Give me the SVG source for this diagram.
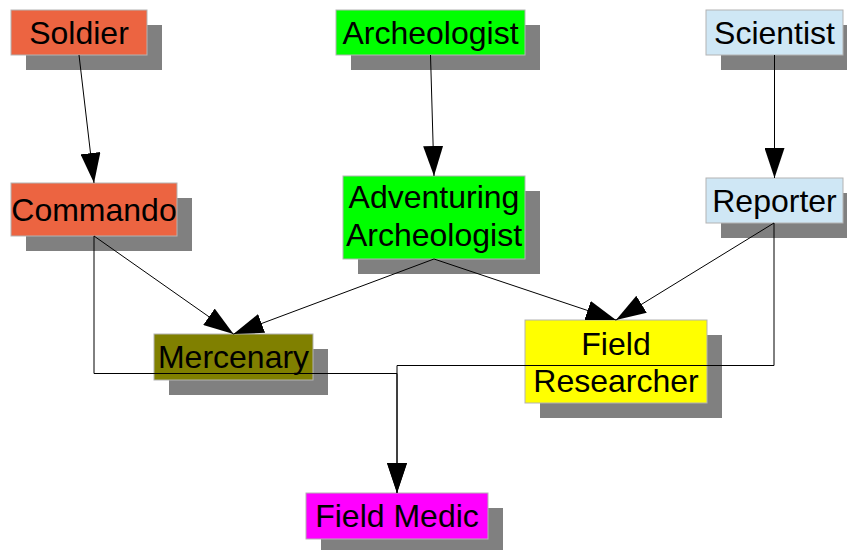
<svg xmlns="http://www.w3.org/2000/svg" width="847" height="550" viewBox="0 0 847 550">
<style>
.sh{fill:#808080}
.bx{stroke:#b3b3b3;stroke-width:1}
.t{font-family:"Liberation Sans",Arial,sans-serif;font-size:32px;fill:#000;text-anchor:middle}
.c{fill:none;stroke:#000;stroke-width:1;marker-end:url(#ah)}
</style>
<defs>
<marker id="ah" markerUnits="userSpaceOnUse" markerWidth="30" markerHeight="20" refX="30" refY="10" orient="auto" viewBox="0 0 30 20">
<path d="M0,0 L30,10 L0,20 z" fill="#000"/>
</marker>
</defs>
<rect width="847" height="550" fill="#fff"/>
<g id="soldier">
<rect class="sh" x="26" y="25" width="136" height="45"/>
<rect class="bx" x="11" y="10" width="136" height="45" fill="#ec6441"/>
<text class="t" x="79" y="44">Soldier</text>
</g>
<g id="archeologist">
<rect class="sh" x="351" y="25" width="189" height="45"/>
<rect class="bx" x="336" y="10" width="189" height="45" fill="#00ff00"/>
<text class="t" x="430.5" y="44">Archeologist</text>
</g>
<g id="scientist">
<rect class="sh" x="721" y="25" width="137" height="45"/>
<rect class="bx" x="706" y="10" width="137" height="45" fill="#cfe7f5"/>
<text class="t" x="774.5" y="44">Scientist</text>
</g>
<g id="commando">
<rect class="sh" x="26" y="198" width="166" height="53"/>
<rect class="bx" x="11" y="183" width="166" height="53" fill="#ec6441"/>
<text class="t" x="94" y="220.5">Commando</text>
</g>
<g id="adventuring">
<rect class="sh" x="358" y="191" width="182" height="83"/>
<rect class="bx" x="343" y="176" width="182" height="83" fill="#00ff00"/>
<text class="t" x="434" y="208">Adventuring</text>
<text class="t" x="434" y="246">Archeologist</text>
</g>
<g id="reporter">
<rect class="sh" x="721" y="193" width="137" height="45"/>
<rect class="bx" x="706" y="178" width="137" height="45" fill="#cfe7f5"/>
<text class="t" x="774.5" y="211.5">Reporter</text>
</g>
<g id="mercenary">
<rect class="sh" x="169" y="349" width="159" height="46"/>
<rect class="bx" x="154" y="334" width="159" height="46" fill="#808000"/>
<text class="t" x="233.5" y="368">Mercenary</text>
</g>
<g id="fieldresearcher">
<rect class="sh" x="540" y="335" width="182" height="83"/>
<rect class="bx" x="525" y="320" width="182" height="83" fill="#ffff00"/>
<text class="t" x="616" y="355">Field</text>
<text class="t" x="616" y="392">Researcher</text>
</g>
<g id="fieldmedic">
<rect class="sh" x="321" y="508" width="182" height="46"/>
<rect class="bx" x="306" y="493" width="182" height="46" fill="#ff00ff"/>
<text class="t" x="397" y="527">Field Medic</text>
</g>
<g id="connectors">
<path class="c" d="M79,55 L94,183"/>
<path class="c" d="M430.5,55 L434,176"/>
<path class="c" d="M774.5,55 L774.5,178"/>
<path class="c" d="M94,236 L233.5,334"/>
<path class="c" d="M434,259 L233.5,334"/>
<path class="c" d="M434,259 L616,320"/>
<path class="c" d="M774,223 L616,320"/>
<path class="c" d="M94,236 L94,373.5 L397,373.5 L397,493"/>
<path class="c" d="M774,223 L774,365.5 L397,365.5 L397,493"/>
</g>
</svg>
